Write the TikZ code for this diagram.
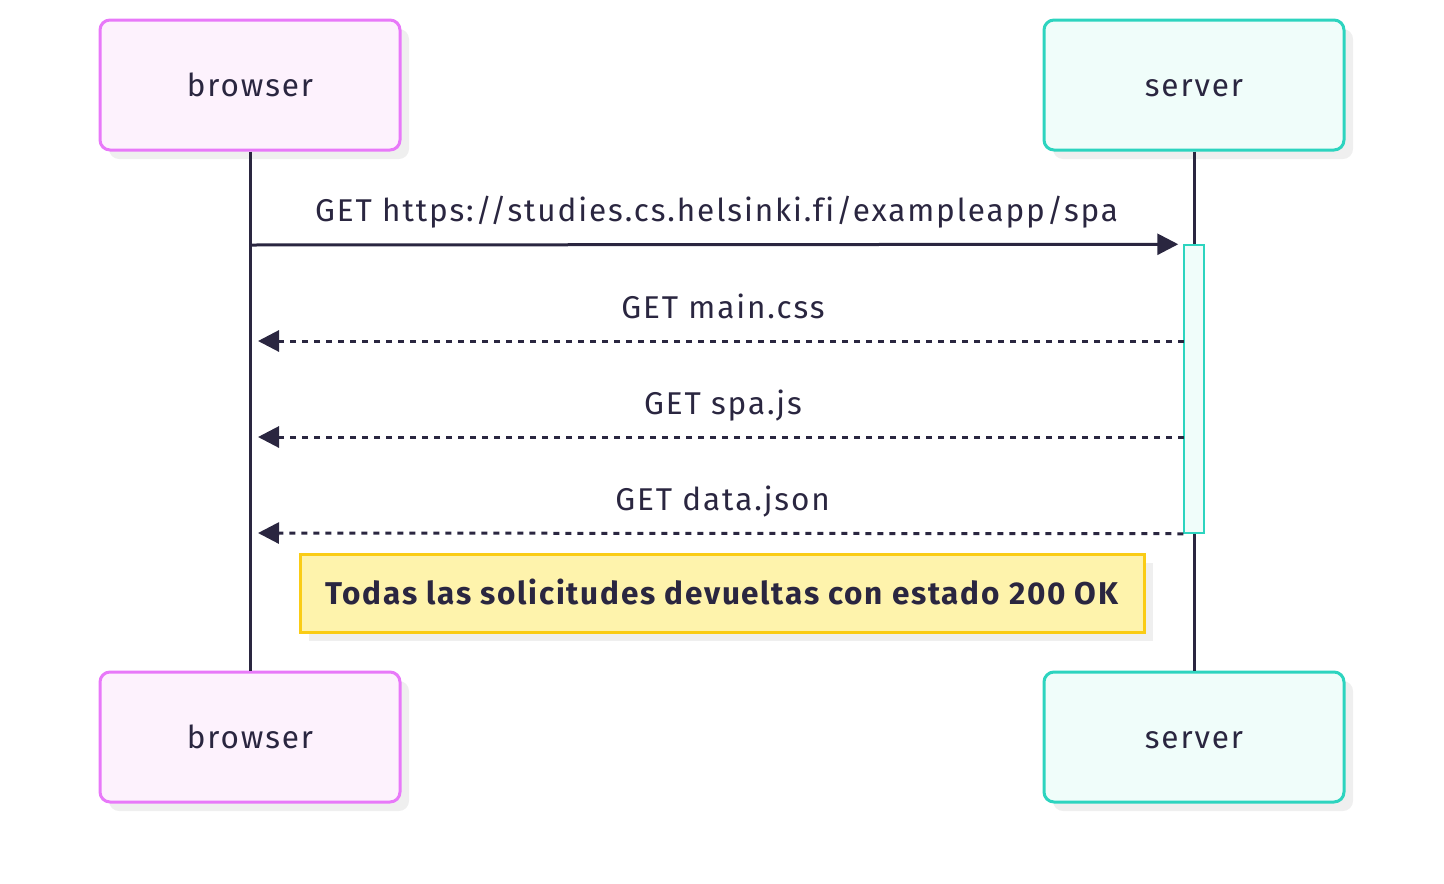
\documentclass[tikz,border=0pt]{standalone}
\usepackage{fontspec}
\setmainfont{Fira Sans}[LetterSpace=6.0,Ligatures=NoCommon,
    BoldFeatures={LetterSpace=5.5}]
\usetikzlibrary{arrows.meta,shadows}
\definecolor{ink}{HTML}{2A2640}
\definecolor{pinkline}{HTML}{E879F9}
\definecolor{pinkfill}{HTML}{FDF2FD}
\definecolor{tealline}{HTML}{2DD4BF}
\definecolor{tealfill}{HTML}{F0FDFA}
\definecolor{noteline}{HTML}{FACC15}
\definecolor{notefill}{HTML}{FEF3AC}
\definecolor{shade}{HTML}{EFEFEF}
\tikzset{actor/.style={
        draw=#1line,
        fill=#1fill,
        line width=3pt,
        rounded corners=10pt,
        minimum width=300pt,
        minimum height=130pt,
        text=ink,
        font=\fontsize{31.5}{36}\selectfont,
        text height=23pt,text depth=0pt,
        drop shadow={shadow xshift=9pt,shadow yshift=-9pt,fill=shade,opacity=1}},
        %
        life/.style={draw=ink,line width=3pt},
        msg/.style={draw=ink,line width=3pt,-{Triangle[length=21pt,width=21pt]}},
        reply/.style={msg,dash pattern=on 6pt off 6pt},
        lbl/.style={text=ink,font=\fontsize{31.5}{36}\selectfont,
            anchor=base,yshift=23pt},
        actbar/.style={draw=tealline,fill=tealfill,line width=1.5pt,
            minimum width=20pt,minimum height=288pt,inner sep=0pt},
        note/.style={draw=noteline,fill=notefill,line width=3pt,
            minimum width=844pt,minimum height=78pt,text=ink,
            font=\fontsize{31.5}{36}\selectfont\bfseries,
            text height=23pt,text depth=0pt,
            drop shadow={shadow xshift=9pt,shadow yshift=-9pt,fill=shade,opacity=1}}
        }

\begin{document}
\begin{tikzpicture}[x=1pt,y=-1pt]
\useasboundingbox (0,0) rectangle (1444,884);

\node[actor=pink] (bT) at (250,85) {browser};
\node[actor=teal] (sT) at (1194,85) {server};
\node[actor=pink] (bB) at (250,737) {browser};
\node[actor=teal] (sB) at (1194,737) {server};

% lifelines
\draw[life] (bT.south) -- (bB.north);
\draw[life] (sT.south) -- (sB.north);

\node[actbar] (act) at (1194,389) {};

\coordinate (b1) at (250,245);
\coordinate (b2) at (250,341);
\coordinate (b3) at (250,437);
\coordinate (b4) at (250,533);
\coordinate (s2) at (1184,341);
\coordinate (s3) at (1184,437);

\draw[msg,shorten >=5pt] (b1) -- (act.north west)
    node[lbl,midway] (m1) {GET https://studies.cs.helsinki.fi/exampleapp/spa};
\draw[reply,shorten >=8pt] (s2) -- (b2)
    node[lbl,midway,xshift=6pt] (m2) {GET main.css};
\draw[reply,shorten >=8pt] (s3) -- (b3)
    node[lbl,midway,xshift=6pt] (m3) {GET spa.js};
\draw[reply,shorten >=8pt] (act.south west) -- (b4)
    node[lbl,midway,xshift=6pt] (m4) {GET data.json};

\node[note] (ok) at (722,593) {Todas las solicitudes devueltas con estado 200 OK};
\end{tikzpicture}
\end{document}
